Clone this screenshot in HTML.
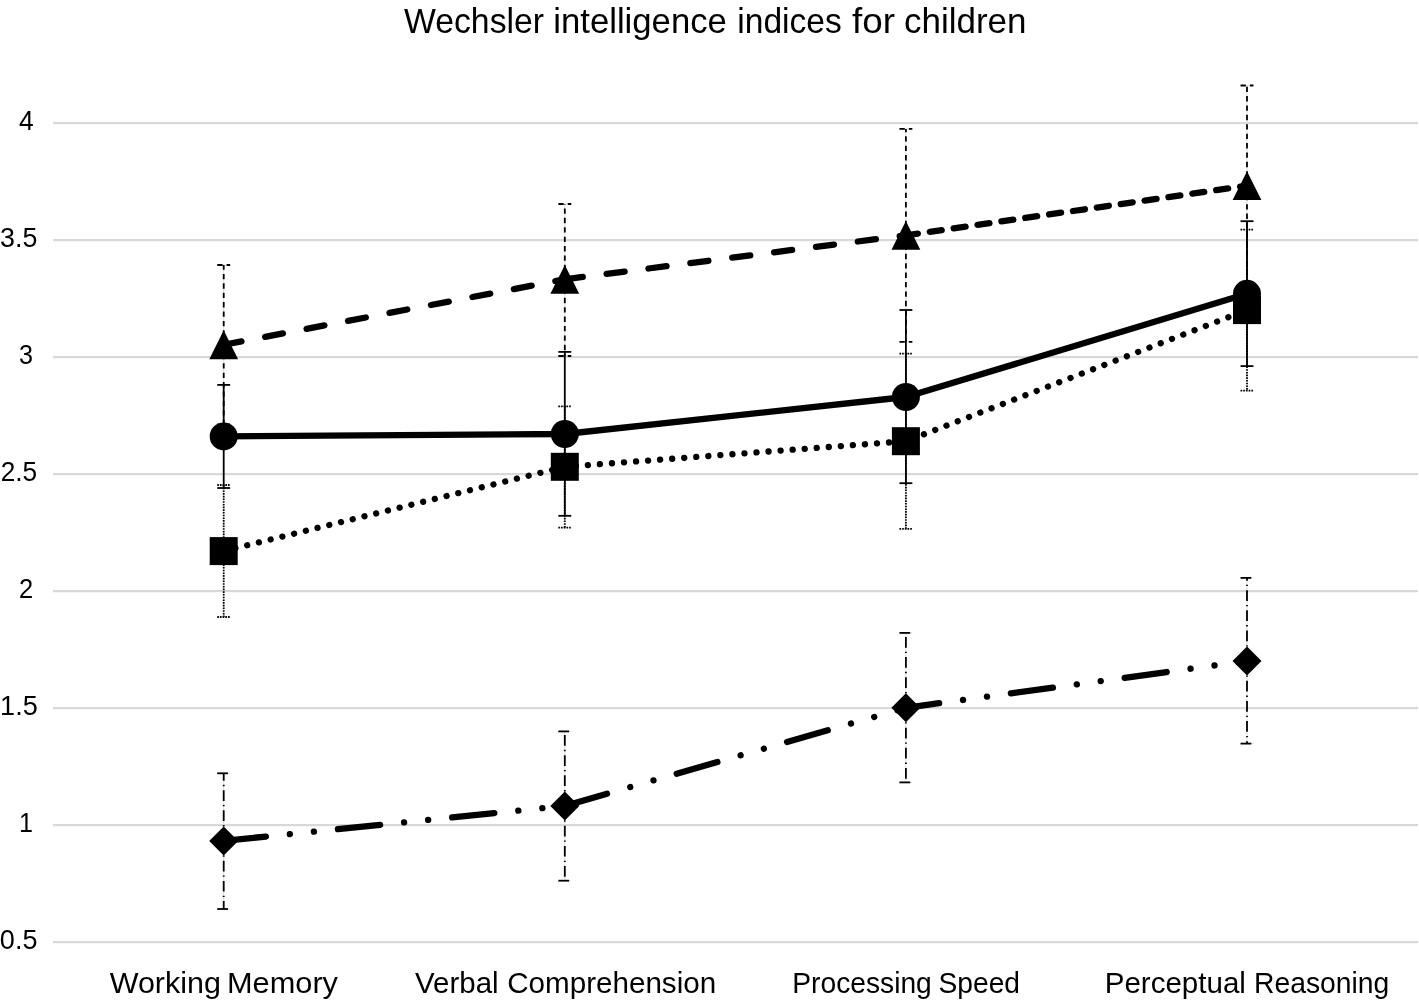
<!DOCTYPE html><html><head><meta charset="utf-8"><style>html,body{margin:0;padding:0;background:#fff;}svg{display:block;filter:grayscale(1);}text{font-family:"Liberation Sans",sans-serif;fill:#000;}</style></head><body>
<svg width="1419" height="1003" viewBox="0 0 1419 1003">
<rect width="1419" height="1003" fill="#fff"/>
<rect x="53" y="122" width="1365" height="2.2" fill="#d8d8d8"/>
<rect x="53" y="239" width="1365" height="2.2" fill="#d8d8d8"/>
<rect x="53" y="356" width="1365" height="2.2" fill="#d8d8d8"/>
<rect x="53" y="473" width="1365" height="2.2" fill="#d8d8d8"/>
<rect x="53" y="590" width="1365" height="2.2" fill="#d8d8d8"/>
<rect x="53" y="707" width="1365" height="2.2" fill="#d8d8d8"/>
<rect x="53" y="824" width="1365" height="2.2" fill="#d8d8d8"/>
<rect x="53" y="941" width="1365" height="2.2" fill="#d8d8d8"/>
<text x="404" y="33" font-size="34.6" textLength="140" lengthAdjust="spacingAndGlyphs">Wechsler</text><text x="553.3" y="33" font-size="34.6" textLength="173.5" lengthAdjust="spacingAndGlyphs">intelligence</text><text x="737.3" y="33" font-size="34.6" textLength="104.5" lengthAdjust="spacingAndGlyphs">indices</text><text x="852" y="33" font-size="34.6" textLength="43" lengthAdjust="spacingAndGlyphs">for</text><text x="904" y="33" font-size="34.6" textLength="122.5" lengthAdjust="spacingAndGlyphs">children</text>
<text x="18.9" y="130" font-size="28" textLength="14.7" lengthAdjust="spacingAndGlyphs">4</text>
<text x="0.06" y="247" font-size="28" textLength="37.3" lengthAdjust="spacingAndGlyphs">3.5</text>
<text x="18.9" y="364" font-size="28" textLength="14" lengthAdjust="spacingAndGlyphs">3</text>
<text x="0.7" y="481" font-size="28" textLength="36.5" lengthAdjust="spacingAndGlyphs">2.5</text>
<text x="18.9" y="598" font-size="28" textLength="14.2" lengthAdjust="spacingAndGlyphs">2</text>
<text x="0.1" y="715" font-size="28" textLength="37.7" lengthAdjust="spacingAndGlyphs">1.5</text>
<text x="18.9" y="832" font-size="28" textLength="14" lengthAdjust="spacingAndGlyphs">1</text>
<text x="-0.15" y="949" font-size="28" textLength="37.55" lengthAdjust="spacingAndGlyphs">0.5</text>
<text x="109.7" y="992.9" font-size="29.5" textLength="111.25" lengthAdjust="spacingAndGlyphs">Working</text>
<text x="227" y="992.9" font-size="29.5" textLength="111" lengthAdjust="spacingAndGlyphs">Memory</text>
<text x="415.1" y="992.9" font-size="29.5" textLength="83.5" lengthAdjust="spacingAndGlyphs">Verbal</text>
<text x="507.2" y="992.9" font-size="29.5" textLength="209" lengthAdjust="spacingAndGlyphs">Comprehension</text>
<text x="792.3" y="992.9" font-size="29.5" textLength="139.5" lengthAdjust="spacingAndGlyphs">Processing</text>
<text x="938.5" y="992.9" font-size="29.5" textLength="81.5" lengthAdjust="spacingAndGlyphs">Speed</text>
<text x="1104.7" y="992.9" font-size="29.5" textLength="141.25" lengthAdjust="spacingAndGlyphs">Perceptual</text>
<text x="1254.06" y="992.9" font-size="29.5" textLength="135.2" lengthAdjust="spacingAndGlyphs">Reasoning</text>
<path d="M223.7,265V424.4M217.25,265H230.15M217.25,424.4H230.15" fill="none" stroke="#dcdcdc" stroke-width="1"/>
<path d="M564.8,204V356M558.35,204H571.25M558.35,356H571.25" fill="none" stroke="#dcdcdc" stroke-width="1"/>
<path d="M905.9,128.9V341.8M899.45,128.9H912.35M899.45,341.8H912.35" fill="none" stroke="#dcdcdc" stroke-width="1"/>
<path d="M1247,85.5V285.9M1240.55,85.5H1253.45M1240.55,285.9H1253.45" fill="none" stroke="#dcdcdc" stroke-width="1"/>
<path d="M223.7,485V617M217.25,485H230.15M217.25,617H230.15" fill="none" stroke="#dcdcdc" stroke-width="1"/>
<path d="M564.8,406.3V527.7M558.35,406.3H571.25M558.35,527.7H571.25" fill="none" stroke="#dcdcdc" stroke-width="1"/>
<path d="M905.9,353.6V528.8M899.45,353.6H912.35M899.45,528.8H912.35" fill="none" stroke="#dcdcdc" stroke-width="1"/>
<path d="M1247,229.6V390.7M1240.55,229.6H1253.45M1240.55,390.7H1253.45" fill="none" stroke="#dcdcdc" stroke-width="1"/>
<path d="M223.7,773.3V909M217.25,773.3H230.15M217.25,909H230.15" fill="none" stroke="#dcdcdc" stroke-width="1"/>
<path d="M564.8,731.4V880.7M558.35,731.4H571.25M558.35,880.7H571.25" fill="none" stroke="#dcdcdc" stroke-width="1"/>
<path d="M905.9,632.9V782.4M899.45,632.9H912.35M899.45,782.4H912.35" fill="none" stroke="#dcdcdc" stroke-width="1"/>
<path d="M1247,577.9V743.6M1240.55,577.9H1253.45M1240.55,743.6H1253.45" fill="none" stroke="#dcdcdc" stroke-width="1"/>
<line x1="223.7" y1="344.75" x2="564.8" y2="279.3" fill="none" stroke="#000" stroke-width="6.3" stroke-linecap="round" stroke-linejoin="round" stroke-dasharray="18.12 24.09"/>
<line x1="564.8" y1="279.3" x2="905.9" y2="235.3" fill="none" stroke="#000" stroke-width="6.3" stroke-linecap="round" stroke-linejoin="round" stroke-dasharray="18.12 24.09"/>
<line x1="905.9" y1="235.3" x2="1247" y2="185.7" fill="none" stroke="#000" stroke-width="6.3" stroke-linecap="round" stroke-linejoin="round" stroke-dasharray="12.09 12.03"/>
<polyline points="223.7,436.4 564.8,434 905.9,397 1247,293.8" fill="none" stroke="#000" stroke-width="6.3" stroke-linecap="round" stroke-linejoin="round"/>
<polyline points="223.7,551.1 564.8,466.8 905.9,441.2 1247,310.1" fill="none" stroke="#000" stroke-width="6.3" stroke-linecap="round" stroke-linejoin="round" stroke-dasharray="0.04 12.04"/>
<polyline points="223.7,840.9 564.8,805.9 905.9,707.8 1247,661" fill="none" stroke="#000" stroke-width="6.3" stroke-linecap="round" stroke-linejoin="round" stroke-dasharray="42.36 24.13 0.04 24.13 0.04 24.13"/>
<path d="M223.7,344.75V265" fill="none" stroke="#000" stroke-width="1.8" stroke-dasharray="5.37 4.03" stroke-dashoffset="0.3"/>
<path d="M223.7,344.75V424.4" fill="none" stroke="#000" stroke-width="1.8" stroke-dasharray="5.37 4.03" stroke-dashoffset="0.3"/>
<path d="M217.25,265H230.15" fill="none" stroke="#000" stroke-width="1.8" stroke-dasharray="5.37 4.03"/>
<path d="M217.25,424.4H230.15" fill="none" stroke="#000" stroke-width="1.8" stroke-dasharray="5.37 4.03"/>
<path d="M564.8,279.3V204" fill="none" stroke="#000" stroke-width="1.8" stroke-dasharray="5.37 4.03" stroke-dashoffset="0.3"/>
<path d="M564.8,279.3V356" fill="none" stroke="#000" stroke-width="1.8" stroke-dasharray="5.37 4.03" stroke-dashoffset="0.3"/>
<path d="M558.35,204H571.25" fill="none" stroke="#000" stroke-width="1.8" stroke-dasharray="5.37 4.03"/>
<path d="M558.35,356H571.25" fill="none" stroke="#000" stroke-width="1.8" stroke-dasharray="5.37 4.03"/>
<path d="M905.9,235.3V128.9" fill="none" stroke="#000" stroke-width="1.8" stroke-dasharray="5.37 4.03" stroke-dashoffset="0.3"/>
<path d="M905.9,235.3V341.8" fill="none" stroke="#000" stroke-width="1.8" stroke-dasharray="5.37 4.03" stroke-dashoffset="0.3"/>
<path d="M899.45,128.9H912.35" fill="none" stroke="#000" stroke-width="1.8" stroke-dasharray="5.37 4.03"/>
<path d="M899.45,341.8H912.35" fill="none" stroke="#000" stroke-width="1.8" stroke-dasharray="5.37 4.03"/>
<path d="M1247,185.7V85.5" fill="none" stroke="#000" stroke-width="1.8" stroke-dasharray="5.37 4.03" stroke-dashoffset="0.3"/>
<path d="M1247,185.7V285.9" fill="none" stroke="#000" stroke-width="1.8" stroke-dasharray="5.37 4.03" stroke-dashoffset="0.3"/>
<path d="M1240.55,85.5H1253.45" fill="none" stroke="#000" stroke-width="1.8" stroke-dasharray="5.37 4.03"/>
<path d="M1240.55,285.9H1253.45" fill="none" stroke="#000" stroke-width="1.8" stroke-dasharray="5.37 4.03"/>
<path d="M223.7,436.4V384.9" fill="none" stroke="#000" stroke-width="1.8"/>
<path d="M223.7,436.4V488" fill="none" stroke="#000" stroke-width="1.8"/>
<path d="M217.25,384.9H230.15" fill="none" stroke="#000" stroke-width="1.8"/>
<path d="M217.25,488H230.15" fill="none" stroke="#000" stroke-width="1.8"/>
<path d="M564.8,434V351.9" fill="none" stroke="#000" stroke-width="1.8"/>
<path d="M564.8,434V515.8" fill="none" stroke="#000" stroke-width="1.8"/>
<path d="M558.35,351.9H571.25" fill="none" stroke="#000" stroke-width="1.8"/>
<path d="M558.35,515.8H571.25" fill="none" stroke="#000" stroke-width="1.8"/>
<path d="M905.9,397V310" fill="none" stroke="#000" stroke-width="1.8"/>
<path d="M905.9,397V483.2" fill="none" stroke="#000" stroke-width="1.8"/>
<path d="M899.45,310H912.35" fill="none" stroke="#000" stroke-width="1.8"/>
<path d="M899.45,483.2H912.35" fill="none" stroke="#000" stroke-width="1.8"/>
<path d="M1247,293.8V221.2" fill="none" stroke="#000" stroke-width="1.8"/>
<path d="M1247,293.8V366.1" fill="none" stroke="#000" stroke-width="1.8"/>
<path d="M1240.55,221.2H1253.45" fill="none" stroke="#000" stroke-width="1.8"/>
<path d="M1240.55,366.1H1253.45" fill="none" stroke="#000" stroke-width="1.8"/>
<path d="M223.7,551.1V485" fill="none" stroke="#000" stroke-width="1.8" stroke-dasharray="1.6 1.1" stroke-dashoffset="0.3"/>
<path d="M223.7,551.1V617" fill="none" stroke="#000" stroke-width="1.8" stroke-dasharray="1.6 1.1" stroke-dashoffset="0.3"/>
<path d="M217.25,485H230.15" fill="none" stroke="#000" stroke-width="1.8" stroke-dasharray="1.6 1.1"/>
<path d="M217.25,617H230.15" fill="none" stroke="#000" stroke-width="1.8" stroke-dasharray="1.6 1.1"/>
<path d="M564.8,466.8V406.3" fill="none" stroke="#000" stroke-width="1.8" stroke-dasharray="1.6 1.1" stroke-dashoffset="0.3"/>
<path d="M564.8,466.8V527.7" fill="none" stroke="#000" stroke-width="1.8" stroke-dasharray="1.6 1.1" stroke-dashoffset="0.3"/>
<path d="M558.35,406.3H571.25" fill="none" stroke="#000" stroke-width="1.8" stroke-dasharray="1.6 1.1"/>
<path d="M558.35,527.7H571.25" fill="none" stroke="#000" stroke-width="1.8" stroke-dasharray="1.6 1.1"/>
<path d="M905.9,441.2V353.6" fill="none" stroke="#000" stroke-width="1.8" stroke-dasharray="1.6 1.1" stroke-dashoffset="0.3"/>
<path d="M905.9,441.2V528.8" fill="none" stroke="#000" stroke-width="1.8" stroke-dasharray="1.6 1.1" stroke-dashoffset="0.3"/>
<path d="M899.45,353.6H912.35" fill="none" stroke="#000" stroke-width="1.8" stroke-dasharray="1.6 1.1"/>
<path d="M899.45,528.8H912.35" fill="none" stroke="#000" stroke-width="1.8" stroke-dasharray="1.6 1.1"/>
<path d="M1247,310.1V229.6" fill="none" stroke="#000" stroke-width="1.8" stroke-dasharray="1.6 1.1" stroke-dashoffset="0.3"/>
<path d="M1247,310.1V390.7" fill="none" stroke="#000" stroke-width="1.8" stroke-dasharray="1.6 1.1" stroke-dashoffset="0.3"/>
<path d="M1240.55,229.6H1253.45" fill="none" stroke="#000" stroke-width="1.8" stroke-dasharray="1.6 1.1"/>
<path d="M1240.55,390.7H1253.45" fill="none" stroke="#000" stroke-width="1.8" stroke-dasharray="1.6 1.1"/>
<path d="M223.7,840.9V773.3" fill="none" stroke="#000" stroke-width="1.8" stroke-dasharray="10.74 4.03 1.34 4.03" stroke-dashoffset="0.3"/>
<path d="M223.7,840.9V909" fill="none" stroke="#000" stroke-width="1.8" stroke-dasharray="10.74 4.03 1.34 4.03" stroke-dashoffset="0.3"/>
<path d="M217.25,773.3H230.15" fill="none" stroke="#000" stroke-width="1.8" stroke-dasharray="10.74 4.03 1.34 4.03"/>
<path d="M217.25,909H230.15" fill="none" stroke="#000" stroke-width="1.8" stroke-dasharray="10.74 4.03 1.34 4.03"/>
<path d="M564.8,805.9V731.4" fill="none" stroke="#000" stroke-width="1.8" stroke-dasharray="10.74 4.03 1.34 4.03" stroke-dashoffset="0.3"/>
<path d="M564.8,805.9V880.7" fill="none" stroke="#000" stroke-width="1.8" stroke-dasharray="10.74 4.03 1.34 4.03" stroke-dashoffset="0.3"/>
<path d="M558.35,731.4H571.25" fill="none" stroke="#000" stroke-width="1.8" stroke-dasharray="10.74 4.03 1.34 4.03"/>
<path d="M558.35,880.7H571.25" fill="none" stroke="#000" stroke-width="1.8" stroke-dasharray="10.74 4.03 1.34 4.03"/>
<path d="M905.9,707.8V632.9" fill="none" stroke="#000" stroke-width="1.8" stroke-dasharray="10.74 4.03 1.34 4.03" stroke-dashoffset="0.3"/>
<path d="M905.9,707.8V782.4" fill="none" stroke="#000" stroke-width="1.8" stroke-dasharray="10.74 4.03 1.34 4.03" stroke-dashoffset="0.3"/>
<path d="M899.45,632.9H912.35" fill="none" stroke="#000" stroke-width="1.8" stroke-dasharray="10.74 4.03 1.34 4.03"/>
<path d="M899.45,782.4H912.35" fill="none" stroke="#000" stroke-width="1.8" stroke-dasharray="10.74 4.03 1.34 4.03"/>
<path d="M1247,661V577.9" fill="none" stroke="#000" stroke-width="1.8" stroke-dasharray="10.74 4.03 1.34 4.03" stroke-dashoffset="0.3"/>
<path d="M1247,661V743.6" fill="none" stroke="#000" stroke-width="1.8" stroke-dasharray="10.74 4.03 1.34 4.03" stroke-dashoffset="0.3"/>
<path d="M1240.55,577.9H1253.45" fill="none" stroke="#000" stroke-width="1.8" stroke-dasharray="10.74 4.03 1.34 4.03"/>
<path d="M1240.55,743.6H1253.45" fill="none" stroke="#000" stroke-width="1.8" stroke-dasharray="10.74 4.03 1.34 4.03"/>
<path d="M223.7,330.35L238.1,359.15L209.3,359.15Z"/>
<path d="M564.8,264.9L579.2,293.7L550.4,293.7Z"/>
<path d="M905.9,220.9L920.3,249.7L891.5,249.7Z"/>
<path d="M1247,171.3L1261.4,200.1L1232.6,200.1Z"/>
<circle cx="223.7" cy="436.4" r="14"/>
<circle cx="564.8" cy="434" r="14"/>
<circle cx="905.9" cy="397" r="14"/>
<circle cx="1247" cy="293.8" r="14"/>
<rect x="209.7" y="537.1" width="28" height="28"/>
<rect x="550.8" y="452.8" width="28" height="28"/>
<rect x="891.9" y="427.2" width="28" height="28"/>
<rect x="1233" y="296.1" width="28" height="28"/>
<path d="M223.7,826.4L238.2,840.9L223.7,855.4L209.2,840.9Z"/>
<path d="M564.8,791.4L579.3,805.9L564.8,820.4L550.3,805.9Z"/>
<path d="M905.9,693.3L920.4,707.8L905.9,722.3L891.4,707.8Z"/>
<path d="M1247,646.5L1261.5,661L1247,675.5L1232.5,661Z"/>
</svg></body></html>
